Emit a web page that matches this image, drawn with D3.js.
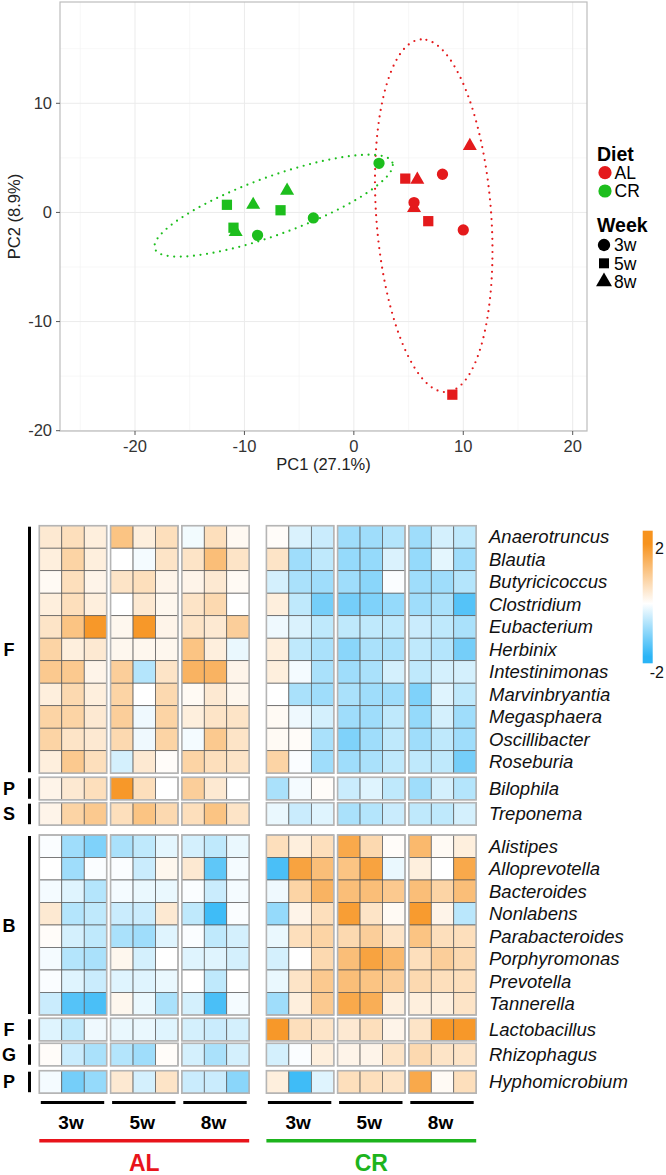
<!DOCTYPE html>
<html><head><meta charset="utf-8">
<script src="https://cdn.jsdelivr.net/npm/d3@7"></script>
<style>body{margin:0;background:#fff}svg{display:block;font-family:"Liberation Sans",Arial,Helvetica,sans-serif}</style>
</head><body><svg id="c" width="666" height="1175"></svg>
<script>
// ---------- PCA data ----------
const pcaDiet = ["AL","AL","AL","AL","AL","AL","AL","AL","AL","CR","CR","CR","CR","CR","CR","CR","CR","CR"];
const pcaWeek = ["3w","3w","3w","5w","5w","5w","8w","8w","8w","3w","3w","3w","5w","5w","5w","8w","8w","8w"];
const pcaPC1 = [8.1, 10.0, 5.5, 4.7, 6.8, 9.0, 10.6, 5.8, 5.5, -3.7, 2.3, -8.8, -11.6, -6.7, -11.0, -9.2, -6.1, -10.8];
const pcaPC2 = [3.5, -1.6, 0.9, 3.1, -0.8, -16.7, 6.1, 3.0, 0.4, -0.5, 4.5, -2.1, 0.7, 0.2, -1.4, 0.7, 2.0, -1.8];
const drawOrder = [0,1,3,4,5,6,7,8,2,9,10,11,12,13,14,15,16,17];
const xTicks = [-20,-10,0,10,20];
const yTicks = [-20,-10,0,10];
const xMinor = [-25,-15,-5,5,15];
const yMinor = [-15,-5,5,15];
// ellipse: diet, centre PC1, centre PC2, semi-major, semi-minor, angle (deg)
const ellDiet = ["AL","CR"];
const ellCX = [7.3, -7.33];
const ellCY = [-0.3, 0.62];
const ellA = [16.2, 11.55];
const ellB = [5.25, 2.65];
const ellAng = [94.2, 20];
const dietColors = {AL:"#E41A1C", CR:"#1DBE1D"};

// ---------- heatmap data ----------
const genera = ["Anaerotruncus","Blautia","Butyricicoccus","Clostridium","Eubacterium","Herbinix","Intestinimonas","Marvinbryantia","Megasphaera","Oscillibacter","Roseburia","Bilophila","Treponema","Alistipes","Alloprevotella","Bacteroides","Nonlabens","Parabacteroides","Porphyromonas","Prevotella","Tannerella","Lactobacillus","Rhizophagus","Hyphomicrobium"];
const groupLabels = ["F","P","S","B","F","G","P"];
const groupSizes = [11,1,1,8,1,1,1];
const weekLabels = ["3w","5w","8w"];
const dietLabels = ["AL","CR"];
const zAL = [
 [0.4,0.6,0.3, 1.1,0.3,0.6, -0.12,0.6,0.12],
 [0.3,0.8,0.3, 0.0,-0.1,0.5, 0.5,1.2,0.5],
 [0.1,0.6,0.2, 0.5,0.6,0.2, 0.2,0.4,0.1],
 [0.3,0.6,0.3, 0.0,0.4,0.15, 0.5,0.7,0.0],
 [0.5,1.1,1.9, 0.15,1.9,0.2, 0.5,0.4,0.9],
 [0.8,0.3,0.4, 0.15,0.15,0.15, 1.1,0.3,-0.2],
 [1.0,1.0,0.2, 0.9,-0.7,0.5, 1.4,1.4,0.2],
 [0.3,0.7,0.3, 0.8,0.0,0.7, 0.1,0.4,0.15],
 [0.8,0.8,0.4, 0.9,-0.15,0.8, 0.3,0.5,0.5],
 [0.8,0.5,0.4, 0.7,-0.15,0.8, -0.1,1.0,0.5],
 [0.3,1.0,0.6, -0.4,0.4,0.05, 0.8,0.6,0.5],
 [0.2,0.4,0.6, 1.9,0.6,0.0, 0.9,0.4,0.0],
 [0.2,0.8,1.0, 0.6,1.1,0.7, 0.6,1.1,0.5],
 [-0.05,-0.9,-1.2, -0.8,-0.6,-0.25, -0.4,-0.6,-0.2],
 [0.0,-0.9,-0.05, -0.05,-0.5,0.15, 0.4,-1.5,-0.1],
 [-0.1,-0.3,-0.7, -0.1,-0.2,-0.2, -0.05,-0.5,-0.1],
 [0.4,-0.7,-0.6, -0.5,-0.5,0.4, -0.6,-1.8,-0.05],
 [0.05,-0.4,-0.6, -0.8,-0.9,-0.3, -0.05,-0.6,-0.4],
 [-0.1,-0.7,-0.8, 0.15,-0.4,0.0, -0.3,-0.3,-0.4],
 [-0.05,-0.3,-0.5, -0.3,-0.3,-0.2, 0.0,-0.6,0.0],
 [-0.5,-1.6,-1.7, 0.15,-0.2,-0.8, -0.4,-1.7,-0.1],
 [-0.3,-0.6,-0.15, -0.2,-0.2,-0.3, -0.4,-0.5,-0.4],
 [0.05,-0.5,-0.8, -0.7,-0.9,0.05, -0.4,-0.8,-0.4],
 [-0.1,-1.3,-1.0, 0.4,-0.4,0.5, -0.5,-0.5,-1.1]
];
const zCR = [
 [0.05,-0.35,-0.5, -0.9,-0.9,-0.7, -0.9,-0.4,-0.6],
 [0.5,-0.9,-0.6, -1.0,-1.0,-0.35, -1.0,-0.25,-0.9],
 [-0.4,-0.8,-0.9, -0.9,-1.1,-0.05, -0.9,-0.9,-0.7],
 [0.3,-0.6,-1.3, -1.3,-1.2,-1.0, -0.9,-0.8,-1.6],
 [-0.15,-0.35,-0.6, -0.6,-0.6,-0.6, -0.5,-0.6,-0.8],
 [0.3,-0.6,-0.8, -1.1,-0.8,-0.8, -0.6,-0.7,-1.3],
 [0.3,-0.1,-0.8, -0.9,-0.8,-0.4, -0.6,-0.4,-0.4],
 [0.0,-0.8,-0.9, -0.8,-0.9,-0.9, -1.2,-0.3,-0.6],
 [0.1,-0.15,-0.4, -0.9,-0.9,-0.6, -1.0,-0.4,-0.9],
 [0.1,0.05,-0.8, -1.2,-0.9,-0.6, -0.9,-0.6,-0.9],
 [0.8,-0.05,-0.9, -0.9,-0.8,-0.6, -0.6,-0.6,-1.3],
 [-0.8,-0.1,0.05, -0.5,-0.3,-0.6, -0.9,-0.4,-0.7],
 [-0.2,-0.5,-0.3, -0.8,-0.7,-0.5, -0.6,-0.6,-0.4],
 [0.6,0.3,0.6, 1.6,0.7,0.05, 1.3,0.1,0.3],
 [-1.7,1.7,1.2, 1.1,1.7,-0.2, 0.3,0.0,1.6],
 [-0.15,0.8,1.4, 1.2,1.2,1.0, 1.2,0.8,1.2],
 [-1.0,0.2,0.6, 1.8,0.5,0.1, 1.85,0.2,-0.65],
 [-0.2,0.6,0.8, 0.7,0.9,0.5, 1.1,0.6,0.6],
 [-0.4,0.0,0.7, 1.2,1.7,1.3, 0.6,0.9,0.7],
 [-0.2,0.5,1.0, 1.2,1.1,0.9, 0.7,0.6,0.6],
 [-0.9,0.3,1.0, 1.6,1.5,0.3, 0.3,0.3,0.5],
 [1.9,0.6,0.5, 0.4,0.6,0.2, 0.5,1.9,1.9],
 [-0.4,-0.05,0.3, 0.2,0.2,0.5, 0.7,0.5,0.5],
 [0.3,-1.8,-0.3, 0.6,0.6,0.5, 1.6,0.1,0.6]
];
const colorTicks = [2,-2];

const svg = d3.select("#c");

// ================= PCA =================
const P = {l:60, r:587, t:2, b:431};
const x = d3.scaleLinear().domain([-20,20]).range([135,572.7]);
const y = d3.scaleLinear().domain([-20,10]).range([430.7,103.3]);
const g1 = svg.append("g");
g1.append("rect").attr("x",P.l).attr("y",P.t).attr("width",P.r-P.l).attr("height",P.b-P.t).attr("fill","#fff");
g1.selectAll(".vmin").data(xMinor).join("line").attr("x1",d=>x(d)).attr("x2",d=>x(d)).attr("y1",P.t).attr("y2",P.b).attr("stroke","#f2f2f2").attr("stroke-width",0.6);
g1.selectAll(".hmin").data(yMinor).join("line").attr("y1",d=>y(d)).attr("y2",d=>y(d)).attr("x1",P.l).attr("x2",P.r).attr("stroke","#f2f2f2").attr("stroke-width",0.6);
g1.selectAll(".vmaj").data(xTicks).join("line").attr("x1",d=>x(d)).attr("x2",d=>x(d)).attr("y1",P.t).attr("y2",P.b).attr("stroke","#ebebeb").attr("stroke-width",1);
g1.selectAll(".hmaj").data(yTicks).join("line").attr("y1",d=>y(d)).attr("y2",d=>y(d)).attr("x1",P.l).attr("x2",P.r).attr("stroke","#ebebeb").attr("stroke-width",1);

// ellipses
const line = d3.line().x(d=>x(d[0])).y(d=>y(d[1])).curve(d3.curveLinearClosed);
ellDiet.forEach((dt,i)=>{
  const a = ellAng[i]*Math.PI/180, pts=[];
  for(let k=0;k<200;k++){const t=k/200*2*Math.PI;
    const u=ellA[i]*Math.cos(t), v=ellB[i]*Math.sin(t);
    pts.push([ellCX[i]+u*Math.cos(a)-v*Math.sin(a), ellCY[i]+u*Math.sin(a)+v*Math.cos(a)]);}
  g1.append("path").attr("d",line(pts)).attr("fill","none").attr("stroke",dietColors[dt])
    .attr("stroke-width",2.2).attr("stroke-linecap","round").attr("stroke-dasharray","0,6.6");
});

const sym = {"3w":d3.symbolCircle,"5w":d3.symbolSquare,"8w":d3.symbolTriangle};
const symSize = {"3w":100,"5w":105,"8w":85};
g1.selectAll(".pt").data(drawOrder).join("path")
  .attr("transform",i=>`translate(${x(pcaPC1[i])},${y(pcaPC2[i])})`)
  .attr("d",i=>d3.symbol(sym[pcaWeek[i]],symSize[pcaWeek[i]])())
  .attr("fill",i=>dietColors[pcaDiet[i]]);

g1.append("rect").attr("x",P.l).attr("y",P.t).attr("width",P.r-P.l).attr("height",P.b-P.t).attr("fill","none").attr("stroke","#bdbdbd").attr("stroke-width",1.2);

// axes
g1.selectAll(".xt").data(xTicks).join("line").attr("x1",d=>x(d)).attr("x2",d=>x(d)).attr("y1",P.b).attr("y2",P.b+4).attr("stroke","#555");
g1.selectAll(".yt").data(yTicks).join("line").attr("y1",d=>y(d)).attr("y2",d=>y(d)).attr("x1",P.l-4).attr("x2",P.l).attr("stroke","#555");
g1.selectAll(".xl").data(xTicks).join("text").attr("x",d=>x(d)).attr("y",452).attr("text-anchor","middle").attr("font-size",16.5).attr("fill","#333").text(d=>d);
g1.selectAll(".yl").data(yTicks).join("text").attr("x",P.l-8).attr("y",d=>y(d)+5.5).attr("text-anchor","end").attr("font-size",16.5).attr("fill","#333").text(d=>d);
g1.append("text").attr("x",(P.l+P.r)/2).attr("y",470).attr("text-anchor","middle").attr("font-size",16.5).attr("fill","#222").text("PC1 (27.1%)");
g1.append("text").attr("transform",`translate(20,${(P.t+P.b)/2}) rotate(-90)`).attr("text-anchor","middle").attr("font-size",16.5).attr("fill","#222").text("PC2 (8.9%)");

// legend
const lg = svg.append("g");
lg.append("text").attr("x",597).attr("y",160.5).attr("font-size",19.5).attr("font-weight","bold").text("Diet");
dietLabels.forEach((d,i)=>{
  const cy = 172.7+i*18.3;
  lg.append("circle").attr("cx",605).attr("cy",cy).attr("r",6.6).attr("fill",dietColors[d]);
  lg.append("text").attr("x",614.5).attr("y",cy+6.3).attr("font-size",17.5).text(d);
});
lg.append("text").attr("x",597).attr("y",231.7).attr("font-size",19.5).attr("font-weight","bold").text("Week");
weekLabels.forEach((w,i)=>{
  const cy = 245+i*18.3;
  lg.append("path").attr("transform",`translate(604,${cy})`).attr("d",d3.symbol(sym[w],w==="5w"?100:w==="8w"?110:120)()).attr("fill","#000");
  lg.append("text").attr("x",614).attr("y",cy+6.3).attr("font-size",17.5).text(w);
});

// ================= Heatmap =================
const color = d3.scaleLinear().domain([-2,0,2]).range(["#2AB4F6","#FFFFFF","#F7931E"]).clamp(true);
const rowH = 22.5, top0 = 525.7, gaps = [4.1,2.9,9.8,3.3,2.5,4.9];
const groupTop = [];
let yy = top0;
groupSizes.forEach((n,gi)=>{groupTop.push(yy); yy += n*rowH + (gi<gaps.length?gaps[gi]:0);});
const rowY = [];
groupSizes.forEach((n,gi)=>{for(let k=0;k<n;k++) rowY.push(groupTop[gi]+k*rowH);});
const colBand = d3.scaleBand().domain([0,1,2]).range([0,67.4]).padding(0);
const blockX = d3.scaleOrdinal().domain(["AL0","AL1","AL2","CR0","CR1","CR2"]).range([39.3,110.6,181.8,266.4,337.6,408.8]);
const blockW = 67.4;

const hg = svg.append("g");
dietLabels.forEach(dt=>{
  const Z = dt==="AL"?zAL:zCR;
  weekLabels.forEach((w,b)=>{
    const bx = blockX(dt+b);
    Z.forEach((row,r)=>{
      for(let c=0;c<3;c++){
        hg.append("rect").attr("x",bx+colBand(c)).attr("y",rowY[r]).attr("width",colBand.bandwidth()).attr("height",rowH)
          .attr("fill",color(row[b*3+c])).attr("stroke","#5a5a5a").attr("stroke-width",0.7);
      }
    });
    groupSizes.forEach((n,gi)=>{
      hg.append("rect").attr("x",bx).attr("y",groupTop[gi]).attr("width",blockW).attr("height",n*rowH)
        .attr("fill","none").attr("stroke","#b5b5b5").attr("stroke-width",1.6);
    });
  });
});

// row labels
hg.selectAll(".rl").data(genera).join("text").attr("x",489).attr("y",(d,i)=>rowY[i]+rowH/2+6.5)
  .attr("font-size",18.5).attr("font-style","italic").attr("fill","#111").text(d=>d);

// group labels and side bars
groupSizes.forEach((n,gi)=>{
  const t = groupTop[gi], h = n*rowH;
  hg.append("rect").attr("x",28).attr("y",t+1).attr("width",3).attr("height",h-2).attr("fill","#000");
  hg.append("text").attr("x",9).attr("y",t+h/2+6.5).attr("text-anchor","middle").attr("font-size",18).attr("font-weight","bold").text(groupLabels[gi]);
});

// bottom annotations
const dietLineCol = {AL:"#E8141B", CR:"#1DB41D"};
dietLabels.forEach(dt=>{
  weekLabels.forEach((w,b)=>{
    const bx = blockX(dt+b);
    hg.append("rect").attr("x",bx+1.5).attr("y",1101).attr("width",blockW-4).attr("height",3).attr("fill","#000");
    hg.append("text").attr("x",bx+blockW/2-2).attr("y",1128.5).attr("text-anchor","middle").attr("font-size",19).attr("font-weight","bold").text(w);
  });
  const x0 = blockX(dt+0), x1 = blockX(dt+2)+blockW;
  hg.append("rect").attr("x",x0).attr("y",1139).attr("width",x1-x0).attr("height",3.5).attr("fill",dietLineCol[dt]);
  hg.append("text").attr("x",(x0+x1)/2).attr("y",1170.5).attr("text-anchor","middle").attr("font-size",23).attr("font-weight","bold").attr("fill",dietLineCol[dt]).text(dt);
});

// colour bar
const defs = svg.append("defs");
const grad = defs.append("linearGradient").attr("id","cb").attr("x1",0).attr("x2",0).attr("y1",0).attr("y2",1);
[[0,2.6],[0.1,2.0],[0.55,0],[0.95,-2],[1,-2.2]].forEach(([o,v])=>grad.append("stop").attr("offset",o).attr("stop-color",color(v)));
hg.append("rect").attr("x",642.7).attr("y",530.7).attr("width",10).attr("height",132.6).attr("fill","url(#cb)");
hg.selectAll(".cbl").data(colorTicks).join("text").attr("x",664).attr("y",d=>d>0?554:678)
  .attr("text-anchor","end").attr("font-size",16).attr("fill","#111").text(d=>d);
</script></body></html>
